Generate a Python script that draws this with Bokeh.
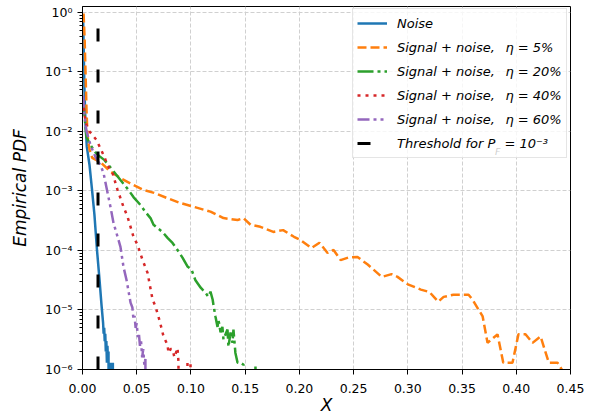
import numpy as np
from bokeh.plotting import figure
from bokeh.models import (FixedTicker, CustomJSTickFormatter, NumeralTickFormatter,
                          Legend, LegendItem, Label, Range1d)
from bokeh.embed import file_html
from bokeh.resources import INLINE

# ---------------- data ----------------
noise_x = [0.0005, 0.001, 0.0018, 0.0028, 0.004, 0.0065, 0.0088, 0.011, 0.0134, 0.0157,
           0.0175, 0.019, 0.0195, 0.020, 0.0205, 0.021, 0.0215, 0.022, 0.0225, 0.023,
           0.0235, 0.024, 0.0245, 0.025, 0.0255, 0.026, 0.0265, 0.027, 0.0275, 0.028, 0.0285]
noise_y = [0.9, 0.3, 0.05, 0.013, 0.0055, 0.0027, 0.00104, 4.0e-4, 1.0e-4, 3.2e-5,
           1.23e-5, 6e-6, 4e-6, 5e-6, 3e-6, 4e-6, 2e-6, 3e-6, 1.3e-6, 2.5e-6,
           1.3e-6, 2e-6, 0, 1.3e-6, 0, 1.3e-6, 0, 1.3e-6, 0, 1.3e-6, 0]

eta5_x = [0.001, 0.002, 0.003, 0.0037, 0.0046, 0.0065, 0.009, 0.017, 0.026, 0.035,
          0.047, 0.056, 0.066, 0.078, 0.090, 0.106, 0.118, 0.130, 0.143, 0.1485,
          0.155, 0.164, 0.176, 0.185, 0.195, 0.201, 0.211, 0.2185, 0.226, 0.2315,
          0.238, 0.245, 0.2536, 0.263, 0.276, 0.285, 0.2905, 0.300, 0.312, 0.320,
          0.328, 0.333, 0.342, 0.356, 0.3596, 0.369, 0.3735, 0.3827, 0.388, 0.3965,
          0.402, 0.4085, 0.415, 0.4224, 0.430, 0.438, 0.4435]
eta5_y = [0.96, 0.34, 0.072, 0.023, 0.0087, 0.0049, 0.0036, 0.0030, 0.0021, 0.00165,
          0.00126, 0.00104, 9.3e-4, 7.6e-4, 6.3e-4, 5.2e-4, 4.5e-4, 3.5e-4, 3.25e-4, 3.5e-4,
          2.7e-4, 2.5e-4, 2.05e-4, 2.2e-4, 1.7e-4, 1.5e-4, 1.1e-4, 1.35e-4, 9.1e-5, 1.02e-4,
          6.9e-5, 7.6e-5, 7.8e-5, 5.8e-5, 3.6e-5, 4.0e-5, 3.6e-5, 2.7e-5, 2.2e-5, 2.0e-5,
          1.38e-5, 1.66e-5, 1.8e-5, 1.8e-5, 1.5e-5, 7.8e-6, 2.8e-6, 3.9e-6, 1.3e-6, 1.3e-6,
          3.9e-6, 3.9e-6, 2.8e-6, 3.6e-6, 1.3e-6, 1.3e-6, 9e-7]

eta20_x = [0.0005, 0.0018, 0.0037, 0.0074, 0.0129, 0.0203, 0.0277, 0.035, 0.0424, 0.047,
           0.0535, 0.058, 0.0627, 0.0655, 0.069, 0.0738, 0.0784, 0.083, 0.0876, 0.0922,
           0.0968, 0.1005, 0.104, 0.109, 0.1134, 0.116, 0.118, 0.120, 0.121, 0.1226,
           0.1245, 0.1254, 0.1273, 0.129, 0.130, 0.1337, 0.1346, 0.1365, 0.1383, 0.1392,
           0.141, 0.143, 0.1457, 0.1485, 0.150, 0.158, 0.1595, 0.161]
eta20_y = [0.0335, 0.0188, 0.008, 0.0059, 0.0042, 0.0033, 0.00225, 0.00153, 0.00104, 7.9e-4,
           5.8e-4, 4.45e-4, 3.5e-4, 2.7e-4, 2.4e-4, 2.05e-4, 1.63e-4, 1.34e-4, 1.02e-4, 7.6e-5,
           5.4e-5, 4.8e-5, 3.2e-5, 2.37e-5, 1.95e-5, 1.67e-5, 2.03e-5, 1.5e-5, 1.14e-5, 7.8e-6,
           5.2e-6, 6.9e-6, 4.2e-6, 5.2e-6, 3.2e-6, 4.7e-6, 2.4e-6, 4.2e-6, 2.8e-6, 4.7e-6,
           1.9e-6, 1.3e-6, 1.3e-6, 1.2e-6, 0, 0, 1.2e-6, 0]

eta40_x = [0.0005, 0.0018, 0.0037, 0.0065, 0.0129, 0.0203, 0.023, 0.0277, 0.0323, 0.035,
           0.0378, 0.0415, 0.0443, 0.047, 0.0507, 0.0553, 0.060, 0.0646, 0.0673, 0.070,
           0.072, 0.0747, 0.0784, 0.0793, 0.0812, 0.083, 0.0848, 0.0876, 0.0885, 0.0895,
           0.0958, 0.0968, 0.0996, 0.1006]
eta40_y = [0.034, 0.019, 0.0128, 0.010, 0.0072, 0.0037, 0.0027, 0.0020, 0.00104, 7.6e-4,
           5.4e-4, 3.7e-4, 2.5e-4, 1.7e-4, 1.25e-4, 7.0e-5, 4.2e-5, 1.5e-5, 1.14e-5, 7.8e-6,
           5.7e-6, 3.6e-6, 2.6e-6, 1.9e-6, 2.2e-6, 2.2e-6, 1.6e-6, 2.3e-6, 1.35e-6, 0,
           0, 1.3e-6, 1.3e-6, 0]

eta60_x = [0.0005, 0.0018, 0.0037, 0.0074, 0.012, 0.0166, 0.0194, 0.023, 0.0258, 0.0286,
           0.0332, 0.035, 0.0378, 0.0406, 0.0443, 0.046, 0.047, 0.048, 0.049, 0.050,
           0.051, 0.052, 0.053, 0.054, 0.055, 0.056, 0.057, 0.058, 0.059]
eta60_y = [0.040, 0.019, 0.010, 0.0059, 0.0037, 0.0027, 0.0020, 9.5e-4, 5.4e-4, 2.9e-4,
           1.5e-4, 1.15e-4, 5.3e-5, 3.2e-5, 1.33e-5, 1.1e-5, 7e-6, 8e-6, 5e-6, 6e-6,
           3.5e-6, 4e-6, 2.5e-6, 3e-6, 1.6e-6, 2.2e-6, 1.2e-6, 1.5e-6, 0]

threshold_x = 0.0143

x_limits = [0.0, 0.45]
y_limits = [1e-6, 10 ** 0.1]
x_ticks = [0.0, 0.05, 0.10, 0.15, 0.20, 0.25, 0.30, 0.35, 0.40, 0.45]
y_ticks = [1e-6, 1e-5, 1e-4, 1e-3, 1e-2, 1e-1, 1.0]
y_tick_labels = ["10⁰", "10⁻¹", "10⁻²", "10⁻³", "10⁻⁴", "10⁻⁵", "10⁻⁶"]  # by -exponent
y_minor_ticks = [m * 10.0 ** e for e in range(-6, 1) for m in range(2, 10)]

x_label = "X"
y_label = "Empirical PDF"
legend_labels = ["Noise",
                 "Signal + noise, \u2002η = 5%",
                 "Signal + noise, \u2002η = 20%",
                 "Signal + noise, \u2002η = 40%",
                 "Signal + noise, \u2002η = 60%",
                 "Threshold for P\u2002\u2009= 10⁻³"]

# zero-count bins are clipped far below the axis (like matplotlib's log clipping)
FLOOR = 1e-12
def clipped(v):
    v = np.asarray(v, dtype=float)
    return np.where(v > 0, v, FLOOR)

# ---------------- figure ----------------
FONT = "DejaVu Sans"
W, H = 591, 417
MB_LEFT, MB_RIGHT, MB_TOP, MB_BOTTOM = 82, 21, 6, 47
FRAME_W = W - MB_LEFT - MB_RIGHT
FRAME_H = H - MB_TOP - MB_BOTTOM

p = figure(width=W, height=H, y_axis_type="log",
           x_range=Range1d(*x_limits), y_range=Range1d(*y_limits),
           output_backend="svg", toolbar_location=None,
           min_border_left=MB_LEFT, min_border_right=MB_RIGHT,
           min_border_top=MB_TOP, min_border_bottom=MB_BOTTOM)
p.background_fill_color = "white"
p.border_fill_color = "white"
p.outline_line_color = "black"
p.outline_line_width = 1
p.outline_line_alpha = 1

r_noise = p.line(noise_x, clipped(noise_y), line_color="#1f77b4", line_width=2.5)
r5 = p.line(eta5_x, clipped(eta5_y), line_color="#ff7f0e", line_width=2.5, line_dash="9 4")
r20 = p.line(eta20_x, clipped(eta20_y), line_color="#2ca02c", line_width=2.5, line_dash="16 4 3 4")
r40 = p.line(eta40_x, clipped(eta40_y), line_color="#d62728", line_width=2.5, line_dash="3 5")
r60 = p.line(eta60_x, clipped(eta60_y), line_color="#9467bd", line_width=2.5, line_dash="12 4 3 4 3 4")
r_thr = p.line([threshold_x, threshold_x], y_limits, line_color="black", line_width=3,
               line_dash="13 28")

# axes
p.xaxis.ticker = FixedTicker(ticks=x_ticks, minor_ticks=[])
p.xaxis.formatter = NumeralTickFormatter(format="0.00")
p.yaxis.ticker = FixedTicker(ticks=y_ticks, minor_ticks=y_minor_ticks)
p.yaxis.formatter = CustomJSTickFormatter(args=dict(labels=y_tick_labels),
                                          code="return labels[Math.round(-Math.log10(tick))];")
for ax in (p.xaxis[0], p.yaxis[0]):
    ax.major_label_text_font = FONT
    ax.major_label_text_font_size = "12.5px"
    ax.major_label_text_color = "black"
    ax.axis_line_color = "black"
    ax.major_tick_line_color = "black"
    ax.minor_tick_line_color = "black"
    ax.major_tick_out = 5
    ax.major_tick_in = 0
    ax.minor_tick_out = 3
    ax.minor_tick_in = 0
    ax.axis_label_text_font = FONT
    ax.axis_label_text_font_style = "italic"
    ax.axis_label_text_font_size = "17px"
    ax.axis_label_text_color = "black"
p.xaxis.axis_label = x_label
p.yaxis.axis_label = y_label
p.xaxis.major_label_standoff = 9
p.xaxis.axis_label_standoff = -1
p.yaxis.major_label_standoff = 5
p.yaxis.axis_label_standoff = 12

p.grid.grid_line_color = "#d0d0d0"
p.grid.grid_line_dash = "4 2"
p.grid.grid_line_width = 1

# legend
LEG_X, LEG_TOP, PAD, GW, STAND, ROW, SP = 270, 5, 4, 30, 10, 20, 4
n_items = len(legend_labels)
leg_h = 2 * PAD + n_items * ROW + (n_items - 1) * SP
items = [LegendItem(label=t, renderers=[r]) for t, r in
         zip(legend_labels, [r_noise, r5, r20, r40, r60, r_thr])]
legend = Legend(items=items, location=(LEG_X, FRAME_H - LEG_TOP - leg_h),
                padding=PAD, margin=0, spacing=SP, glyph_width=GW, glyph_height=ROW,
                label_height=ROW, label_standoff=STAND,
                label_text_font=FONT, label_text_font_style="italic",
                label_text_font_size="13px", label_text_color="black",
                border_line_color="#cccccc", border_line_width=1,
                background_fill_color="white", background_fill_alpha=0.8)
p.add_layout(legend)

# subscript "F" of P_F in the last legend entry
text_x0 = LEG_X + PAD + GW + STAND
row_center = LEG_TOP + PAD + (n_items - 1) * (ROW + SP) + ROW / 2
p.add_layout(Label(x=text_x0 + 98.5, y=FRAME_H - (row_center + 6.5),
                   x_units="screen", y_units="screen", text="F",
                   text_font=FONT, text_font_style="italic", text_font_size="9.5px",
                   text_color="black", text_baseline="alphabetic", text_align="left"))

open("out.html", "w").write(file_html(p, INLINE))
